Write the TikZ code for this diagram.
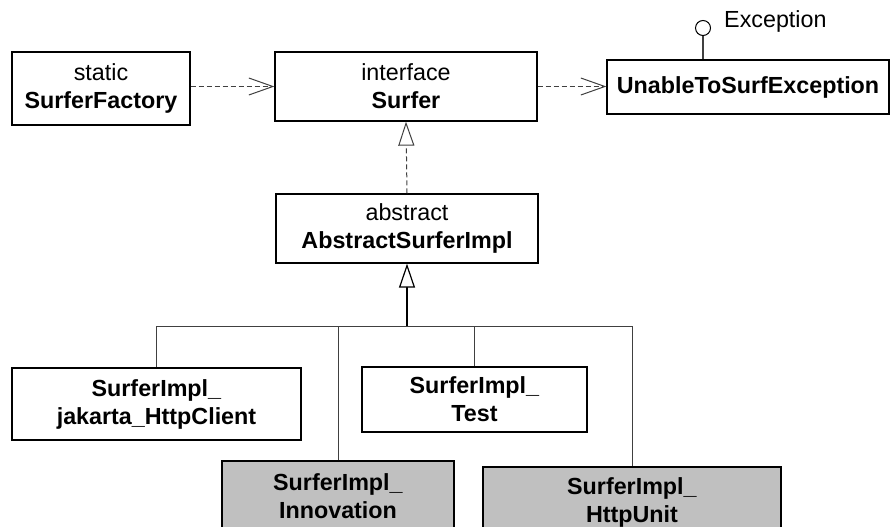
\documentclass[tikz,border=0pt]{standalone}
\usepackage{fontspec}
\setmainfont{Liberation Sans}
\usetikzlibrary{arrows.meta}
\definecolor{implgray}{HTML}{C0C0C0}
\definecolor{linegray}{HTML}{404040}
\begin{document}
\begin{tikzpicture}[x=1pt,y=-1pt,
  every node/.style={font=\fontsize{23.3}{28}\selectfont},
  classbox/.style={draw=black, line width=1.3pt, fill=white, align=center, inner sep=0pt},
  implbox/.style={classbox, fill=implgray},
  depend/.style={draw=linegray, line width=1pt, dash pattern=on 5pt off 3pt,
    -{Straight Barb[length=24pt,width=17pt,line width=1pt]}},
  realize/.style={draw=linegray, line width=1pt, dash pattern=on 5pt off 3pt,
    -{Triangle[open,length=24pt,width=16pt,line width=1pt,fill=white]}},
  inherit/.style={draw=black, line width=2.2pt,
    -{Triangle[open,length=24pt,width=16pt,line width=1.2pt,fill=white]}},
  branch/.style={draw=linegray, line width=1pt}
]
\useasboundingbox (0,0) rectangle (891,527);
\clip (0,0) rectangle (891,527);

% top row
\node[classbox, minimum width=178pt, minimum height=73pt] (factory) at (101,88.5)
  {static\\\textbf{SurferFactory}};
\node[classbox, minimum width=262pt, minimum height=69pt] (surfer) at (406,86.5)
  {interface\\\textbf{Surfer}};
\node[classbox, minimum width=282pt, minimum height=54pt] (unable) at (748,87)
  {\textbf{UnableToSurfException}};

% interface lollipop on the exception class
\node[circle, draw=black, line width=1pt, fill=white, minimum size=15pt, inner sep=0pt] (lolli) at (703,28) {};
\node[anchor=base west, inner sep=0pt] (exclabel) at (724,27.5) {Exception};
\draw[draw=linegray, line width=1.2pt] (lolli.south) -- (lolli.south |- unable.north);

% abstract base class
\node[classbox, minimum width=262pt, minimum height=69pt] (abstract) at (407,228.5)
  {abstract\\\textbf{AbstractSurferImpl}};

% implementations
\node[classbox, minimum width=289pt, minimum height=72pt] (jakarta) at (156.5,404)
  {\textbf{SurferImpl\_}\\\textbf{jakarta\_HttpClient}};
\node[classbox, minimum width=225pt, minimum height=65pt] (test) at (474.5,399.5)
  {\textbf{SurferImpl\_}\\\textbf{Test}};
\node[implbox, minimum width=232pt, minimum height=70pt] (innovation) at (338,496)
  {\textbf{SurferImpl\_}\\\textbf{Innovation}};
\node[implbox, minimum width=298pt, minimum height=70pt] (httpunit) at (632,502)
  {\textbf{SurferImpl\_}\\\textbf{HttpUnit}};

% dependencies
\draw[depend] (factory.east |- surfer.west) -- (surfer.west);
\draw[depend] (surfer.east) -- (surfer.east -| unable.west);

% realization of the interface
\draw[realize] (abstract.north) -- (surfer.south);

% generalization tree
\coordinate (bus) at (407,326);
\draw[inherit] (bus) -- (abstract.south);
\draw[branch] (jakarta.north) -- (jakarta.north |- bus) -- (httpunit.north |- bus) -- (httpunit.north);
\draw[branch] (innovation.north) -- (innovation.north |- bus);
\draw[branch] (test.north) -- (test.north |- bus);
\end{tikzpicture}
\end{document}
